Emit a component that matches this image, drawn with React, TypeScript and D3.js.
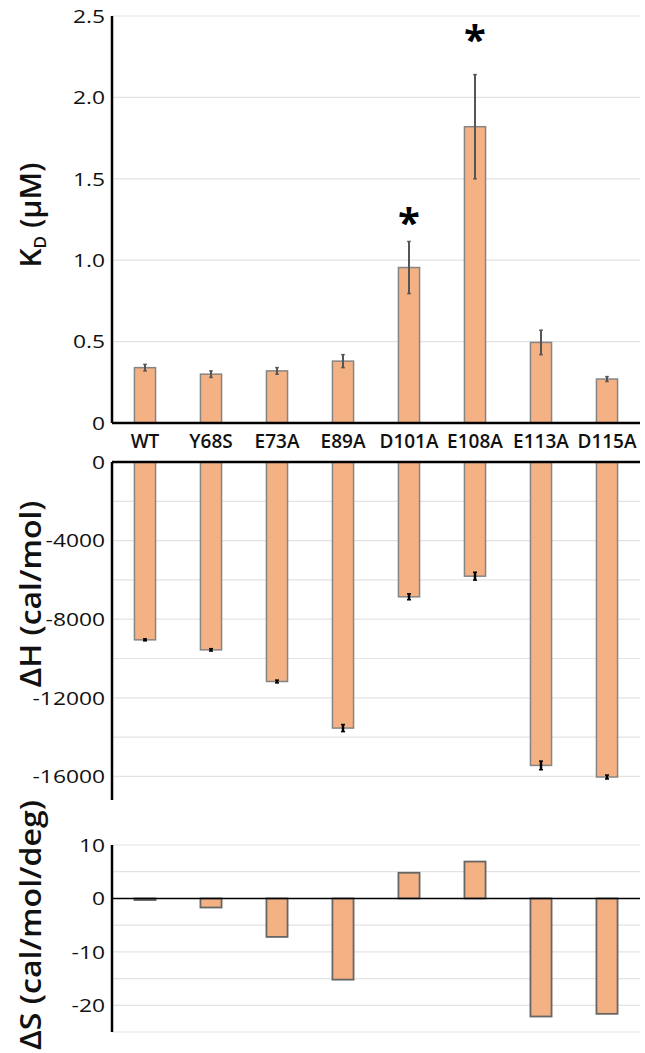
import { useEffect, useRef } from 'react'
import * as d3 from 'd3'

const mutants = ['WT', 'Y68S', 'E73A', 'E89A', 'D101A', 'E108A', 'E113A', 'D115A']
const kd = [0.34, 0.30, 0.32, 0.38, 0.955, 1.82, 0.495, 0.27]
const kdErr = [0.02, 0.02, 0.02, 0.04, 0.16, 0.32, 0.075, 0.015]
// stars drawn above these mutants, at these K_D levels
const significant = ['D101A', 'E108A']
const starLevel = [1.28, 2.40]
const dH = [-9050, -9560, -11170, -13540, -6860, -5810, -15440, -16030]
const dHErr = [50, 60, 70, 180, 150, 200, 220, 100]
const dS = [-0.3, -1.7, -7.2, -15.2, 4.8, 6.9, -22.1, -21.6]

const kdTicks = [0, 0.5, 1.0, 1.5, 2.0, 2.5]
const kdGrid = [0.5, 1.0, 1.5, 2.0, 2.5]
const dHTicks = [0, -4000, -8000, -12000, -16000]
const dHGrid = [-2000, -4000, -6000, -8000, -10000, -12000, -14000, -16000]
const dSTicks = [10, 0, -10, -20]
const dSGrid = [10, 5, -5, -10, -15, -20, -25]

const barFill = '#f4b183'
const font = '"Open Sans", sans-serif'

function App() {
    const ref = useRef(null)

    useEffect(() => {
        const svg = d3.select(ref.current)
        svg.selectAll('*').remove()

        const left = 112
        const right = 640

        const x = d3
            .scaleBand()
            .domain(mutants)
            .range([left, right])
            .paddingInner(0.68)
            .paddingOuter(0.34)

        const yKd = d3.scaleLinear().domain([0, 2.5]).range([423, 16])
        const yH = d3.scaleLinear().domain([-17200, 0]).range([800, 462])
        const yS = d3.scaleLinear().domain([-25, 10]).range([1032, 845])

        // light gridlines
        const grid = (vals, y) => {
            svg
                .append('g')
                .selectAll('line')
                .data(vals)
                .enter()
                .append('line')
                .attr('x1', left)
                .attr('x2', right)
                .attr('y1', d => y(d))
                .attr('y2', d => y(d))
                .style('stroke', '#e3e3e3')
                .style('stroke-width', 1.2)
        }
        grid(kdGrid, yKd)
        grid(dHGrid, yH)
        grid(dSGrid, yS)

        const tickLabels = (vals, y, fmt) => {
            svg
                .append('g')
                .selectAll('text')
                .data(vals)
                .enter()
                .append('text')
                .attr('transform', d => `translate(105, ${y(d)}) scale(1.2, 1)`)
                .attr('dy', '0.36em')
                .style('text-anchor', 'end')
                .style('font-family', font)
                .style('font-size', '19px')
                .style('fill', '#111')
                .text(fmt)
        }
        tickLabels(kdTicks, yKd, d => (d === 0 ? '0' : d3.format('.1f')(d)))
        tickLabels(dHTicks, yH, d => String(d))
        tickLabels(dSTicks, yS, d => String(d))

        // K_D bars
        svg
            .append('g')
            .selectAll('rect')
            .data(kd)
            .enter()
            .append('rect')
            .attr('x', (d, i) => x(mutants[i]))
            .attr('width', x.bandwidth())
            .attr('y', d => yKd(d))
            .attr('height', d => yKd(0) - yKd(d))
            .style('fill', barFill)
            .style('stroke', '#858585')
            .style('stroke-width', 1.5)

        const errorBars = (vals, errs, y, color, w, cap) => {
            const g = svg.append('g')
            vals.forEach((v, i) => {
                const cx = x(mutants[i]) + x.bandwidth() / 2
                const y1 = y(v - errs[i])
                const y2 = y(v + errs[i])
                g.append('line')
                    .attr('x1', cx).attr('x2', cx)
                    .attr('y1', y1).attr('y2', y2)
                    .style('stroke', color).style('stroke-width', w)
                ;[y1, y2].forEach(yy => {
                    g.append('line')
                        .attr('x1', cx - cap).attr('x2', cx + cap)
                        .attr('y1', yy).attr('y2', yy)
                        .style('stroke', color).style('stroke-width', 1.5)
                })
            })
        }
        errorBars(kd, kdErr, yKd, '#555', 2, 1.8)

        // significance stars
        svg
            .append('g')
            .selectAll('text')
            .data(significant)
            .enter()
            .append('text')
            .attr('x', d => x(d) + x.bandwidth() / 2)
            .attr('y', (d, i) => yKd(starLevel[i]) + 22)
            .style('text-anchor', 'middle')
            .style('font-family', font)
            .style('font-weight', 700)
            .style('font-size', '40px')
            .style('fill', '#000')
            .text('*')

        // dH bars
        svg
            .append('g')
            .selectAll('rect')
            .data(dH)
            .enter()
            .append('rect')
            .attr('x', (d, i) => x(mutants[i]))
            .attr('width', x.bandwidth())
            .attr('y', yH(0))
            .attr('height', d => yH(d) - yH(0))
            .style('fill', barFill)
            .style('stroke', '#858585')
            .style('stroke-width', 1.5)
        errorBars(dH, dHErr, yH, '#000', 2.5, 2)

        // dS bars
        svg
            .append('g')
            .selectAll('rect')
            .data(dS)
            .enter()
            .append('rect')
            .attr('x', (d, i) => x(mutants[i]))
            .attr('width', x.bandwidth())
            .attr('y', d => yS(Math.max(0, d)))
            .attr('height', d => Math.abs(yS(d) - yS(0)))
            .style('fill', barFill)
            .style('stroke', '#666')
            .style('stroke-width', 1.8)

        // axes lines
        const axisLine = (x1, y1, x2, y2, w) => {
            svg.append('line')
                .attr('x1', x1).attr('y1', y1).attr('x2', x2).attr('y2', y2)
                .style('stroke', '#000').style('stroke-width', w)
        }
        axisLine(left, yKd(2.5), left, yKd(0), 2.5)
        axisLine(left, yKd(0), right, yKd(0), 2.5)
        axisLine(left, yH(0), left, yH(-17200), 2.5)
        axisLine(left, yH(0), right, yH(0), 2.5)
        axisLine(left, yS(10), left, yS(-25), 2.5)
        axisLine(left, yS(0), right, yS(0), 1.5)

        // category labels
        svg
            .append('g')
            .selectAll('text')
            .data(mutants)
            .enter()
            .append('text')
            .attr('x', d => x(d) + x.bandwidth() / 2)
            .attr('y', 448)
            .style('text-anchor', 'middle')
            .style('font-family', font)
            .style('font-weight', 600)
            .style('font-size', '19px')
            .style('fill', '#111')
            .text(d => d)

        // axis titles
        const title = (cy, len) => {
            const t = svg.append('text')
                .attr('transform', `translate(41, ${cy}) rotate(-90)`)
                .attr('textLength', len)
                .attr('lengthAdjust', 'spacingAndGlyphs')
                .style('text-anchor', 'middle')
                .style('font-family', font)
                .style('font-weight', 600)
                .style('font-size', '28px')
                .style('fill', '#111')
            return t
        }
        const kdTitle = title(215, 105)
        kdTitle.append('tspan').text('K')
        kdTitle.append('tspan').attr('dy', 5).style('font-size', '16px').text('D')
        kdTitle.append('tspan').attr('dy', -5).text(' (µM)')
        title(594, 187).text('ΔH (cal/mol)')
        title(925, 250).text('ΔS (cal/mol/deg)')
    }, [])

    return (
        <div style={{ position: 'absolute', left: 0, top: 0 }}>
            <svg ref={ref} width={645} height={1053} style={{ display: 'block', background: '#fff' }} />
        </div>
    )
}

export default App
